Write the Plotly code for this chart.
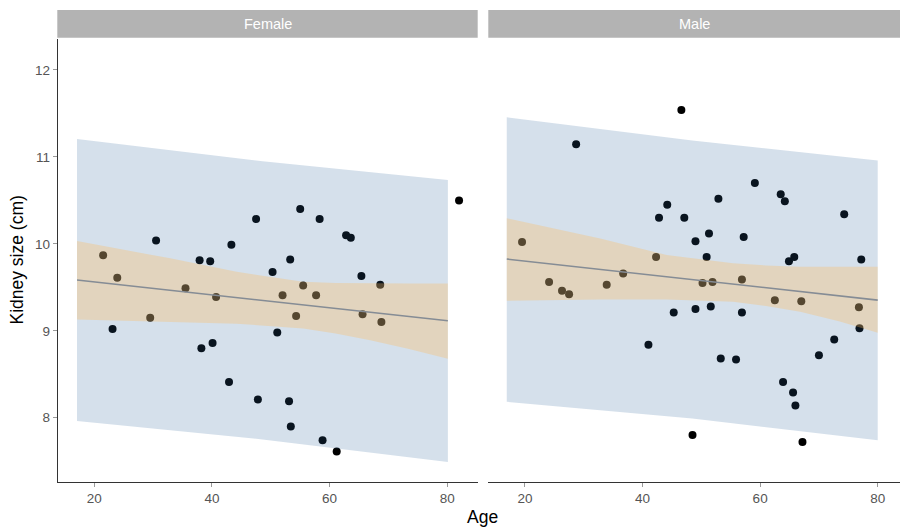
import plotly.graph_objects as go

W, H = 900, 529

# ---------------- data ----------------
female_age = [82.0, 55.0, 47.5, 58.3, 62.8, 63.6, 30.5, 43.3, 21.5, 37.9, 39.7, 53.3,
              50.3, 65.4, 23.9, 68.6, 55.5, 35.5, 52.0, 57.7, 40.7, 54.3, 65.6, 68.8,
              29.5, 23.1, 51.1, 40.1, 38.2, 42.9, 47.8, 53.1, 53.4, 58.8, 61.2]
female_size = [10.50, 10.40, 10.285, 10.285, 10.10, 10.07, 10.04, 9.99, 9.87, 9.81, 9.80, 9.82,
               9.675, 9.63, 9.61, 9.53, 9.52, 9.49, 9.41, 9.41, 9.39, 9.17, 9.19, 9.10,
               9.15, 9.02, 8.98, 8.86, 8.80, 8.41, 8.21, 8.19, 7.90, 7.74, 7.61]

male_age = [46.6, 28.7, 59.1, 63.5, 64.2, 52.9, 44.2, 42.8, 47.1, 74.3, 49.0, 51.3,
            57.2, 19.5, 50.9, 42.3, 64.9, 65.8, 77.2, 36.7, 24.1, 26.3, 27.5, 33.9,
            50.2, 51.9, 56.9, 62.5, 67.0, 76.8, 76.9, 45.3, 49.0, 51.6, 56.9, 41.0,
            72.6, 70.0, 53.3, 55.9, 63.9, 65.6, 66.0, 48.5, 67.2]
male_size = [11.54, 11.145, 10.70, 10.57, 10.49, 10.52, 10.45, 10.30, 10.30, 10.34, 10.03, 10.12,
             10.08, 10.02, 9.85, 9.85, 9.80, 9.85, 9.82, 9.66, 9.56, 9.46, 9.42, 9.53,
             9.55, 9.56, 9.59, 9.35, 9.34, 9.27, 9.03, 9.21, 9.25, 9.28, 9.21, 8.84,
             8.90, 8.72, 8.68, 8.67, 8.41, 8.29, 8.14, 7.80, 7.72]

# fitted line end points
female_fit_age = [17.06, 80.1]
female_fit = [9.584, 9.115]
male_fit_age = [16.9, 80.0]
male_fit = [9.825, 9.353]

# prediction interval (blue ribbon)
female_pi_age = [17.06, 48.6, 80.1]
female_pi_upper = [11.206, 10.95, 10.734]
female_pi_lower = [7.961, 7.75, 7.49]
male_pi_age = [16.9, 48.45, 80.0]
male_pi_upper = [11.456, 11.19, 10.96]
male_pi_lower = [8.183, 7.99, 7.742]

# confidence interval (tan ribbon)
female_ci_age = [17.06, 25.0, 32.9, 44.2, 55.5, 61.0, 66.9, 73.5, 80.1]
female_ci_upper = [10.032, 9.93, 9.833, 9.679, 9.563, 9.55, 9.545, 9.545, 9.545]
female_ci_lower = [9.129, 9.115, 9.101, 9.082, 9.025, 8.97, 8.89, 8.79, 8.679]
male_ci_age = [16.9, 24.8, 32.8, 44.1, 55.4, 61.0, 66.8, 73.4, 80.0]
male_ci_upper = [10.294, 10.18, 10.063, 9.871, 9.776, 9.752, 9.737, 9.737, 9.737]
male_ci_lower = [9.345, 9.355, 9.36, 9.36, 9.333, 9.285, 9.218, 9.11, 8.977]

panels = ["Female", "Male"]
x_ticks = [20, 40, 60, 80]
y_ticks = [8, 9, 10, 11, 12]

# ---------------- styling ----------------
FONT = "Liberation Sans, Arial, sans-serif"
BLUE = "rgba(45,100,155,0.2)"
TAN = "rgba(255,188,89,0.31)"
LINE = "#858c95"
TICKFONT = dict(family=FONT, size=13.5, color="#555555")

def px_x(p):
    return p / W

def px_y(p):
    return 1 - p / H

fig = go.Figure()

sets = [
    (female_age, female_size, female_fit_age, female_fit, female_pi_age, female_pi_upper,
     female_pi_lower, female_ci_age, female_ci_upper, female_ci_lower, "x", "y"),
    (male_age, male_size, male_fit_age, male_fit, male_pi_age, male_pi_upper,
     male_pi_lower, male_ci_age, male_ci_upper, male_ci_lower, "x2", "y2"),
]

for (ages, sizes, fa, fv, pa, pu, pl, ca, cu, cl, xa, ya) in sets:
    fig.add_trace(go.Scatter(x=ages, y=sizes, mode="markers", xaxis=xa, yaxis=ya,
                             marker=dict(color="black", size=8), hoverinfo="skip",
                             showlegend=False))
    fig.add_trace(go.Scatter(x=list(pa) + list(pa)[::-1], y=list(pu) + list(pl)[::-1],
                             mode="lines", fill="toself", fillcolor=BLUE,
                             line=dict(width=0), xaxis=xa, yaxis=ya,
                             hoverinfo="skip", showlegend=False))
    fig.add_trace(go.Scatter(x=list(ca) + list(ca)[::-1], y=list(cu) + list(cl)[::-1],
                             mode="lines", fill="toself", fillcolor=TAN,
                             line=dict(width=0), xaxis=xa, yaxis=ya,
                             hoverinfo="skip", showlegend=False))
    fig.add_trace(go.Scatter(x=fa, y=fv, mode="lines", xaxis=xa, yaxis=ya,
                             line=dict(color=LINE, width=1.6), hoverinfo="skip",
                             showlegend=False))

y_dom = [px_y(481.7), px_y(39.3)]
y_range = [7.264, 12.353]

common_x = dict(showgrid=False, zeroline=False, showline=True, linecolor="#333333",
                linewidth=1.5, ticks="outside", ticklen=4, tickwidth=1, tickcolor="#9a9a9a",
                tickvals=x_ticks, tickfont=TICKFONT)

fig.update_layout(
    width=W, height=H,
    margin=dict(l=0, r=0, t=0, b=0),
    paper_bgcolor="white", plot_bgcolor="white",
    showlegend=False,
    xaxis=dict(domain=[px_x(58.3), px_x(477.7)], range=[13.878, 85.17], anchor="y", **common_x),
    xaxis2=dict(domain=[px_x(488.3), 1.0], range=[13.76, 83.79], anchor="y2", **common_x),
    yaxis=dict(domain=y_dom, range=y_range, anchor="x", showgrid=False, zeroline=False,
               showline=True, linecolor="#333333", linewidth=1.5, ticks="outside",
               ticklen=4, tickwidth=1, tickcolor="#9a9a9a", tickvals=y_ticks,
               tickfont=TICKFONT),
    yaxis2=dict(domain=y_dom, range=y_range, anchor="x2", showgrid=False, zeroline=False,
                showline=False, showticklabels=False, ticks=""),
)

# facet strips
strip_bounds = [(57.3, 477.7), (488.3, 900.0)]
for name, (x0, x1) in zip(panels, strip_bounds):
    fig.add_shape(type="rect", xref="paper", yref="paper",
                  x0=px_x(x0), x1=px_x(x1), y0=px_y(37.7), y1=px_y(10),
                  fillcolor="#b3b3b3", line=dict(width=0))
    fig.add_annotation(xref="paper", yref="paper", x=px_x((x0 + x1) / 2), y=px_y(24),
                       text=name, showarrow=False, xanchor="center", yanchor="middle",
                       font=dict(family=FONT, size=14.5, color="white"))

# axis titles
fig.add_annotation(xref="paper", yref="paper", x=px_x(483), y=px_y(517), text="Age",
                   showarrow=False, xanchor="center", yanchor="middle",
                   font=dict(family=FONT, size=17.5, color="black"))
fig.add_annotation(xref="paper", yref="paper", x=px_x(17), y=px_y(260.5),
                   text="Kidney size (cm)", textangle=-90, showarrow=False,
                   xanchor="center", yanchor="middle",
                   font=dict(family=FONT, size=17.5, color="black"))

fig.write_html("out.html",
               config={"displayModeBar": False, "staticPlot": True},
               post_script="document.body.style.margin='0';document.body.style.overflow='hidden';")
